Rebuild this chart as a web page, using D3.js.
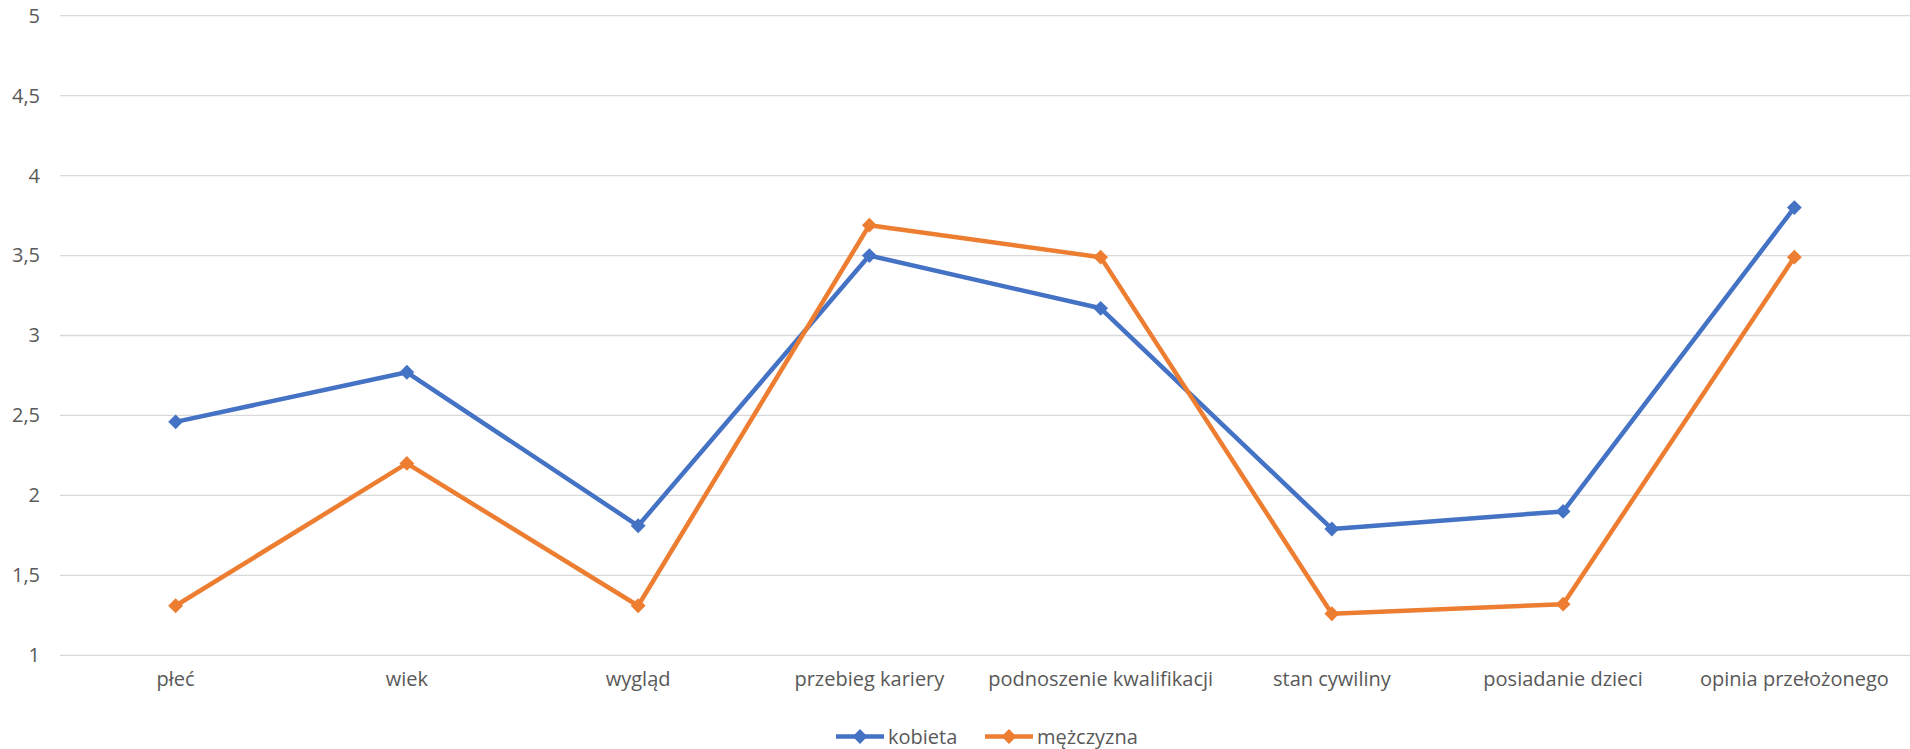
<!DOCTYPE html>
<html>
<head>
<meta charset="utf-8">
<script src="https://cdn.jsdelivr.net/npm/d3@7"></script>
<style>
  html, body { margin: 0; padding: 0; background: #fff; }
  svg { display: block; }
  text { font-family: "Open Sans", sans-serif; fill: #595959; }
</style>
</head>
<body>
<svg id="chart" width="1910" height="749"></svg>
<script>
const categories = ["płeć", "wiek", "wygląd", "przebieg kariery", "podnoszenie kwalifikacji", "stan cywiliny", "posiadanie dzieci", "opinia przełożonego"];
const kobieta = [2.46, 2.77, 1.81, 3.50, 3.17, 1.79, 1.90, 3.80];
const mezczyzna = [1.31, 2.20, 1.31, 3.69, 3.49, 1.26, 1.32, 3.49];
const yTicks = [1, 1.5, 2, 2.5, 3, 3.5, 4, 4.5, 5];
const seriesNames = ["kobieta", "mężczyzna"];
const seriesColors = ["#4472C4", "#ED7D31"];

const svg = d3.select("#chart");
const x = d3.scaleBand().domain(categories).range([60, 1910]).padding(0);
const y = d3.scaleLinear().domain([1, 5]).range([655.3, 15.7]);
const fmt = d => String(d).replace(".", ",");

// gridlines
svg.append("g").selectAll("line").data(yTicks).join("line")
  .attr("x1", 60).attr("x2", 1910)
  .attr("y1", d => y(d)).attr("y2", d => y(d))
  .attr("stroke", "#d9d9d9").attr("stroke-width", 1.3);

// y axis labels
const yAxis = d3.axisLeft(y).tickValues(yTicks).tickFormat(fmt).tickSize(0).tickPadding(0);
const gy = svg.append("g").attr("transform", "translate(40,0)").call(yAxis);
gy.select(".domain").remove();
gy.selectAll("text").attr("font-size", 20).attr("fill", "#595959").attr("font-family", "Open Sans, sans-serif");

// x axis labels
const xAxis = d3.axisBottom(x).tickSize(0).tickPadding(0);
const gx = svg.append("g").attr("transform", "translate(0,672)").call(xAxis);
gx.select(".domain").remove();
gx.selectAll("text").attr("font-size", 20).attr("fill", "#595959").attr("font-family", "Open Sans, sans-serif");

const data = [kobieta, mezczyzna];
const line = d3.line().x((d, i) => x(categories[i]) + x.bandwidth() / 2).y(d => y(d));
const diamond = d3.symbol().type(d3.symbolSquare).size(110);

data.forEach((vals, s) => {
  const g = svg.append("g");
  g.append("path").datum(vals).attr("d", line)
    .attr("fill", "none").attr("stroke", seriesColors[s]).attr("stroke-width", 4.5)
    .attr("stroke-linejoin", "round");
  g.selectAll("path.m").data(vals).join("path").attr("class", "m")
    .attr("d", diamond)
    .attr("transform", (d, i) => `translate(${x(categories[i]) + x.bandwidth() / 2},${y(d)}) rotate(45)`)
    .attr("fill", seriesColors[s]);
});

// legend
const legendX = d3.scaleOrdinal().domain(seriesNames).range([836, 985]);
const lg = svg.append("g");
seriesNames.forEach((name, s) => {
  const lx = legendX(name), ly = 736.5;
  lg.append("line").attr("x1", lx).attr("x2", lx + 48).attr("y1", ly).attr("y2", ly)
    .attr("stroke", seriesColors[s]).attr("stroke-width", 4.5);
  lg.append("path").attr("d", diamond).attr("transform", `translate(${lx + 24},${ly}) rotate(45)`)
    .attr("fill", seriesColors[s]);
  lg.append("text").attr("x", lx + 52).attr("y", ly).attr("dy", "0.35em")
    .attr("font-size", 20).text(name);
});
</script>
</body>
</html>
